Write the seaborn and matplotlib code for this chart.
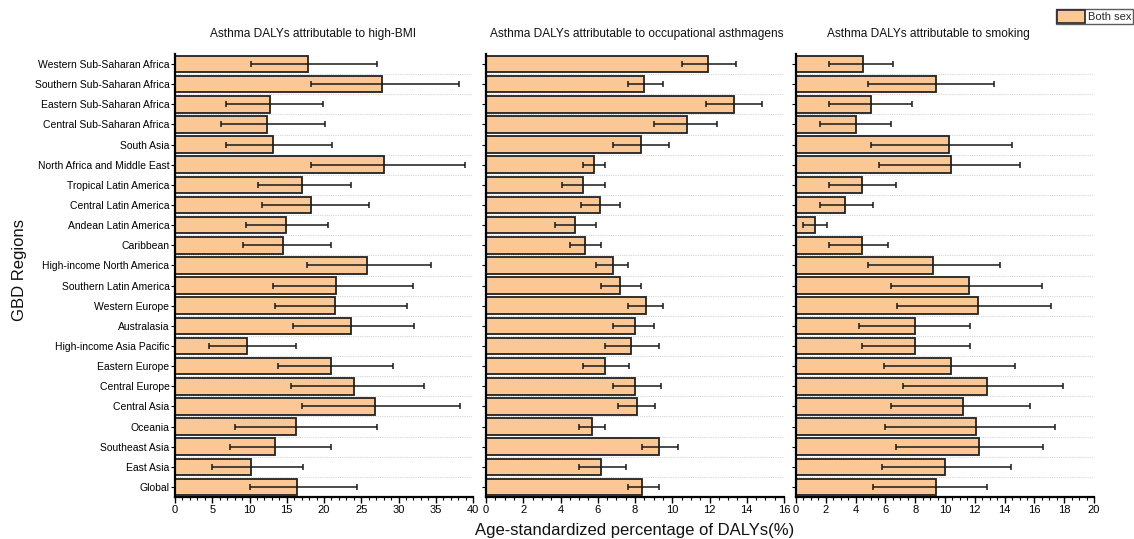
import matplotlib
matplotlib.use("Agg")
import matplotlib.pyplot as plt
from matplotlib.ticker import MultipleLocator, AutoMinorLocator
from matplotlib.patches import Patch
import seaborn as sns
import pandas as pd
import numpy as np

regions = ["Western Sub-Saharan Africa", "Southern Sub-Saharan Africa", "Eastern Sub-Saharan Africa",
           "Central Sub-Saharan Africa", "South Asia", "North Africa and Middle East",
           "Tropical Latin America", "Central Latin America", "Andean Latin America", "Caribbean",
           "High-income North America", "Southern Latin America", "Western Europe", "Australasia",
           "High-income Asia Pacific", "Eastern Europe", "Central Europe", "Central Asia", "Oceania",
           "Southeast Asia", "East Asia", "Global"]

bmi_val = [17.8, 27.8, 12.7, 12.3, 13.2, 28.0, 17.1, 18.3, 14.9, 14.5, 25.8,
           21.6, 21.5, 23.6, 9.6, 21.0, 24.0, 26.9, 16.2, 13.4, 10.2, 16.4]
bmi_low = [10.2, 18.3, 6.9, 6.2, 6.8, 18.3, 11.2, 11.7, 9.5, 9.1, 17.7,
           13.1, 13.4, 15.9, 4.6, 13.8, 15.6, 17.0, 8.0, 7.4, 4.9, 10.0]
bmi_up = [27.1, 38.1, 19.9, 20.1, 21.1, 38.9, 23.6, 26.0, 20.5, 20.9, 34.3,
          32.0, 31.1, 32.1, 16.2, 29.3, 33.4, 38.3, 27.1, 21.0, 17.2, 24.4]

occ_val = [11.9, 8.5, 13.3, 10.8, 8.3, 5.8, 5.2, 6.1, 4.8, 5.3, 6.8,
           7.2, 8.6, 8.0, 7.8, 6.4, 8.0, 8.1, 5.7, 9.3, 6.2, 8.4]
occ_low = [10.5, 7.6, 11.8, 9.0, 6.8, 5.2, 4.1, 5.1, 3.7, 4.5, 5.9,
           6.2, 7.6, 6.8, 6.4, 5.2, 6.8, 7.1, 5.0, 8.4, 5.0, 7.6]
occ_up = [13.4, 9.5, 14.8, 12.4, 9.8, 6.4, 6.4, 7.2, 5.9, 6.2, 7.6,
          8.3, 9.5, 9.0, 9.3, 7.7, 9.4, 9.1, 6.4, 10.3, 7.5, 9.3]

smk_val = [4.5, 9.4, 5.0, 4.0, 10.3, 10.4, 4.4, 3.3, 1.3, 4.4, 9.2,
           11.6, 12.2, 8.0, 8.0, 10.4, 12.8, 11.2, 12.1, 12.3, 10.0, 9.4]
smk_low = [2.2, 4.8, 2.2, 1.6, 5.0, 5.6, 2.2, 1.6, 0.5, 2.2, 4.8,
           6.4, 6.8, 4.2, 4.4, 5.9, 7.2, 6.4, 6.0, 6.7, 5.8, 5.2]
smk_up = [6.5, 13.3, 7.8, 6.4, 14.5, 15.0, 6.7, 5.2, 2.1, 6.2, 13.7,
          16.5, 17.1, 11.7, 11.7, 14.7, 17.9, 15.7, 17.4, 16.6, 14.4, 12.8]

titles = ["Asthma DALYs attributable to high-BMI",
          "Asthma DALYs attributable to occupational asthmagens",
          "Asthma DALYs attributable to smoking"]
title_x = [0.463, 0.505, 0.443]
xmax = [40, 16, 20]
xstep = [5, 2, 2]
series = [(bmi_val, bmi_low, bmi_up), (occ_val, occ_low, occ_up), (smk_val, smk_low, smk_up)]

sns.set_theme(style="white")
plt.rcParams["font.family"] = ["Liberation Sans", "DejaVu Sans"]

bar_color = "#FBC794"

fig = plt.figure(figsize=(11.34, 5.39), dpi=100)
W, H = 1134, 539
lefts = [175, 486, 796]
width = 298
top, bottom = 54, 497
axes = []
for i in range(3):
    ax = fig.add_axes([lefts[i] / W, 1 - bottom / H, width / W, (bottom - top) / H])
    axes.append(ax)

for i, ax in enumerate(axes):
    val, low, up = series[i]
    df = pd.DataFrame({"region": regions, "value": val})
    sns.barplot(data=df, x="value", y="region", orient="h", color=bar_color,
                edgecolor="#222222", linewidth=1.3, width=0.82, saturation=1, ax=ax)
    v = np.array(val)
    xerr = np.vstack([v - np.array(low), np.array(up) - v])
    ax.errorbar(v, np.arange(len(regions)), xerr=xerr, fmt="none", ecolor="#1a1a1a",
                elinewidth=1.1, capsize=2.5, capthick=1.1, zorder=5)
    ax.set_xlim(0, xmax[i])
    ax.set_ylim(len(regions) - 0.5, -0.5)
    ax.xaxis.set_major_locator(MultipleLocator(xstep[i]))
    ax.xaxis.set_minor_locator(AutoMinorLocator())
    for yb in np.arange(0.5, len(regions) - 1, 1):
        ax.axhline(yb, color="#d6d6d6", lw=0.8, ls=(0, (1, 1)), zorder=0)
    for s in ["top", "right"]:
        ax.spines[s].set_visible(False)
    for s in ["left", "bottom"]:
        ax.spines[s].set_color("black")
        ax.spines[s].set_linewidth(1.6)
    ax.tick_params(axis="x", which="major", direction="out", length=4, width=1,
                   colors="black", labelsize=8, pad=2, bottom=True)
    ax.tick_params(axis="x", which="minor", direction="out", length=2, width=0.8,
                   colors="black", bottom=True)
    ax.tick_params(axis="y", which="major", direction="out", length=3, width=0.8,
                   colors="black", labelsize=7.5, pad=1, left=True)
    ax.set_xlabel("")
    ax.set_ylabel("")
    ax.set_title(titles[i], fontsize=8.6, pad=12, color="#111111", x=title_x[i])
    if i > 0:
        ax.set_yticklabels([])

fig.text(635 / W, 1 - 530 / H, "Age-standardized percentage of DALYs(%)",
         ha="center", va="center", fontsize=12, color="#111111")
fig.text(20 / W, 1 - 270 / H, "GBD Regions", rotation=90, ha="center", va="center",
         fontsize=12, color="#111111")

handle = Patch(facecolor=bar_color, edgecolor="#333333", linewidth=1.3)
leg = fig.legend([handle], ["Both sex"], loc="upper right", bbox_to_anchor=(0.999, 0.984),
                 frameon=True, fontsize=8, fancybox=False, handlelength=2.5,
                 handleheight=1.4, borderpad=0.12, handletextpad=0.3, borderaxespad=0.0)
leg.get_frame().set_edgecolor("#333333")
leg.get_frame().set_linewidth(1.0)

fig.savefig("out.png", dpi=100)
